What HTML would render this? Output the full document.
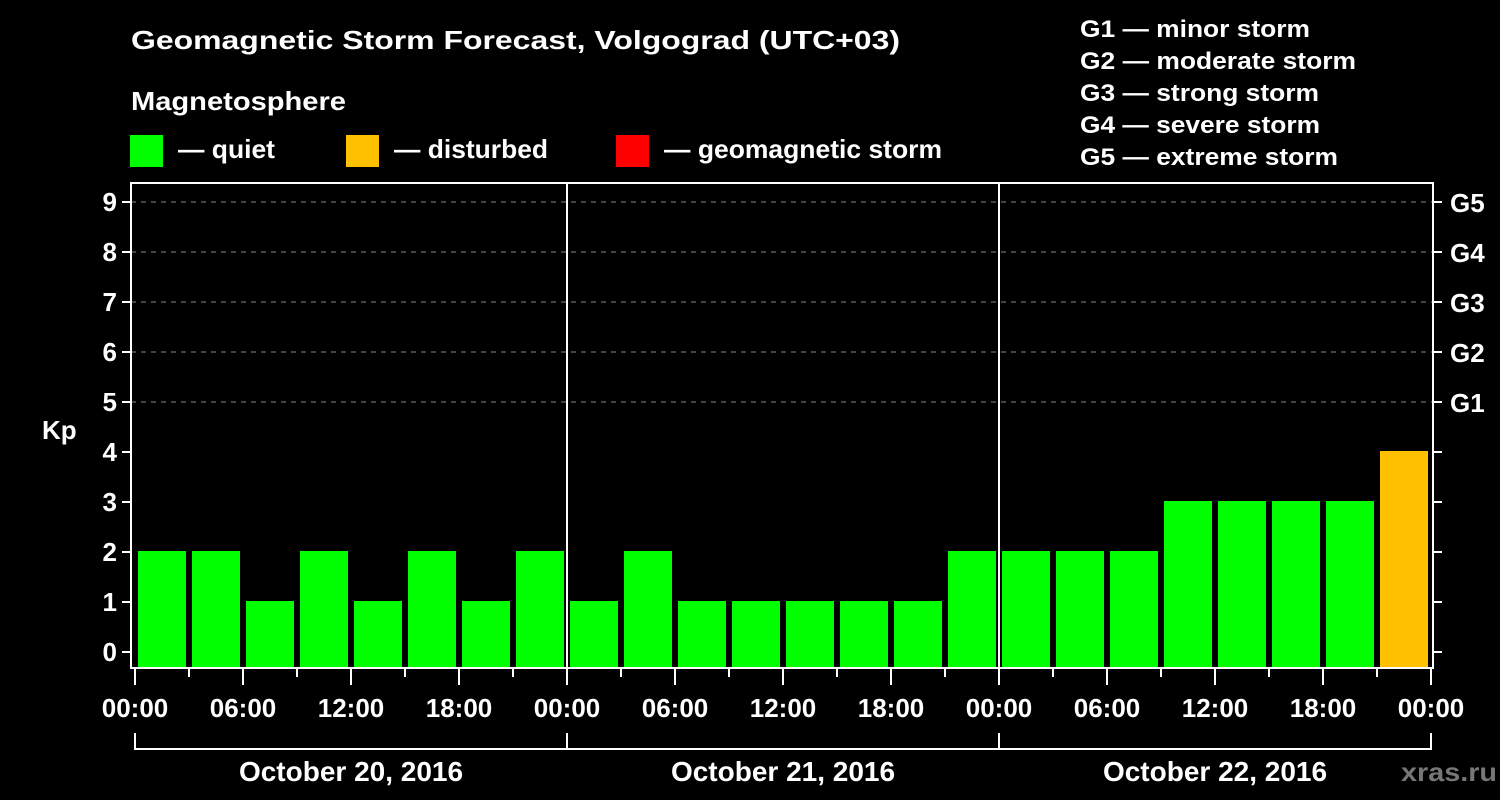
<!DOCTYPE html>
<html><head><meta charset="utf-8"><style>
html,body{margin:0;padding:0;background:#000;}
svg{display:block;font-family:"Liberation Sans",sans-serif;font-weight:bold;}
</style></head><body>
<svg id="chart" width="1500" height="800" viewBox="0 0 1500 800" xmlns="http://www.w3.org/2000/svg">
<rect x="0" y="0" width="1500" height="800" fill="#000"/>
<text x="131" y="49" fill="#fff" font-size="26" textLength="769" lengthAdjust="spacingAndGlyphs">Geomagnetic Storm Forecast, Volgograd (UTC+03)</text>
<text x="131" y="110" fill="#fff" font-size="26" textLength="215" lengthAdjust="spacingAndGlyphs">Magnetosphere</text>
<g><rect x="130" y="135" width="33" height="32" fill="#00ff00"/><text x="178" y="158" fill="#fff" font-size="26" textLength="97" lengthAdjust="spacingAndGlyphs">— quiet</text></g>
<g><rect x="346" y="135" width="33" height="32" fill="#ffc000"/><text x="394" y="158" fill="#fff" font-size="26" textLength="154" lengthAdjust="spacingAndGlyphs">— disturbed</text></g>
<g><rect x="616" y="135" width="33" height="32" fill="#ff0000"/><text x="664" y="158" fill="#fff" font-size="26" textLength="278" lengthAdjust="spacingAndGlyphs">— geomagnetic storm</text></g>
<g fill="#fff" font-size="24">
<text x="1080" y="37" textLength="230" lengthAdjust="spacingAndGlyphs">G1 — minor storm</text>
<text x="1080" y="69" textLength="276" lengthAdjust="spacingAndGlyphs">G2 — moderate storm</text>
<text x="1080" y="101" textLength="239" lengthAdjust="spacingAndGlyphs">G3 — strong storm</text>
<text x="1080" y="133" textLength="240" lengthAdjust="spacingAndGlyphs">G4 — severe storm</text>
<text x="1080" y="165" textLength="258" lengthAdjust="spacingAndGlyphs">G5 — extreme storm</text>
</g>
<text x="42" y="439" fill="#fff" font-size="26">Kp</text>
<text x="1401" y="781" fill="#777" font-size="26" textLength="96" lengthAdjust="spacingAndGlyphs">xras.ru</text>
<g id="grid"></g><g id="bars"></g><g id="axes"></g>
</svg>
<script>
const categories = ["20 00","20 03","20 06","20 09","20 12","20 15","20 18","20 21","21 00","21 03","21 06","21 09","21 12","21 15","21 18","21 21","22 00","22 03","22 06","22 09","22 12","22 15","22 18","22 21"];
const kpValues = [2,2,1,2,1,2,1,2,1,2,1,1,1,1,1,2,2,2,2,3,3,3,3,4];
const statusCodes = ["q","q","q","q","q","q","q","q","q","q","q","q","q","q","q","q","q","q","q","q","q","q","q","d"];
const yTicks = [0,1,2,3,4,5,6,7,8,9];
const gLabels = ["G1","G2","G3","G4","G5"];
const gLevels = [5,6,7,8,9];
const hourLabels = ["00:00","06:00","12:00","18:00","00:00","06:00","12:00","18:00","00:00","06:00","12:00","18:00","00:00"];
const dayLabels = ["October 20, 2016","October 21, 2016","October 22, 2016"];

const NS="http://www.w3.org/2000/svg";
const X0=135, SLOT=54, Y0=652, UNIT=50, LEFT=131, RIGHT=1433, TOP=183, BOT=668;
function xScale(i){return X0+i*SLOT;}
function yScale(v){return Y0-v*UNIT;}
function mk(tag,attrs,parent,txt){const e=document.createElementNS(NS,tag);for(const k in attrs)e.setAttribute(k,attrs[k]);if(txt!==undefined)e.textContent=txt;parent.appendChild(e);return e;}
const grid=document.getElementById('grid'),bars=document.getElementById('bars'),axes=document.getElementById('axes');
const colors={q:"#00ff00",d:"#ffc000",s:"#ff0000"};

yTicks.forEach(v=>{
  const y=yScale(v);
  if(v>=5){const l=mk('line',{x1:LEFT,x2:RIGHT,y1:y,y2:y,stroke:'#888','stroke-width':1,'stroke-dasharray':'5,5'},grid);
  
  }
  const t=mk('line',{x1:LEFT-9,x2:LEFT,y1:y,y2:y,stroke:'#fff','stroke-width':2},axes);
  
  
  const rt=mk('line',{x1:RIGHT,x2:RIGHT+9,y1:y,y2:y,stroke:'#fff','stroke-width':2},axes);
  
  
  const lb=mk('text',{x:117,y:y+9,fill:'#fff','font-size':26,'text-anchor':'end'},axes,String(v));
  
  
});
gLabels.forEach((g,i)=>{
  const lb=mk('text',{x:1450,y:yScale(gLevels[i])+10,fill:'#fff','font-size':26},axes,g);
  
  
});
kpValues.forEach((v,i)=>{
  const top=yScale(v)-1, bot=yScale(-0.3);
  const r=mk('rect',{x:xScale(i)+3,y:top,width:SLOT-6,height:bot-top,fill:colors[statusCodes[i]]},bars);
  
  
});
const frame=mk('rect',{x:LEFT,y:TOP,width:RIGHT-LEFT,height:BOT-TOP,fill:'none',stroke:'#fff','stroke-width':2},axes);


[1,2].forEach(d=>{
  const l=mk('line',{x1:xScale(d*8),x2:xScale(d*8),y1:TOP,y2:BOT,stroke:'#fff','stroke-width':2},axes);
  
  
});
for(let i=0;i<=24;i++){
  const major=i%2===0;
  const t=mk('line',{x1:xScale(i),x2:xScale(i),y1:BOT,y2:major?685:677,stroke:'#fff','stroke-width':2},axes);
  
  
}
hourLabels.forEach((h,i)=>{
  const lb=mk('text',{x:xScale(i*2),y:717,fill:'#fff','font-size':26,'text-anchor':'middle'},axes,h);
  
  
});
const br=mk('path',{d:`M${xScale(0)},733 V749 H${xScale(24)} V733 M${xScale(8)},733 V749 M${xScale(16)},733 V749`,stroke:'#fff','stroke-width':2,fill:'none'},axes);


dayLabels.forEach((d,i)=>{
  const lb=mk('text',{x:xScale(i*8+4),y:781,fill:'#fff','font-size':28,'text-anchor':'middle'},axes,d);
  
  
});
</script>
</body></html>
